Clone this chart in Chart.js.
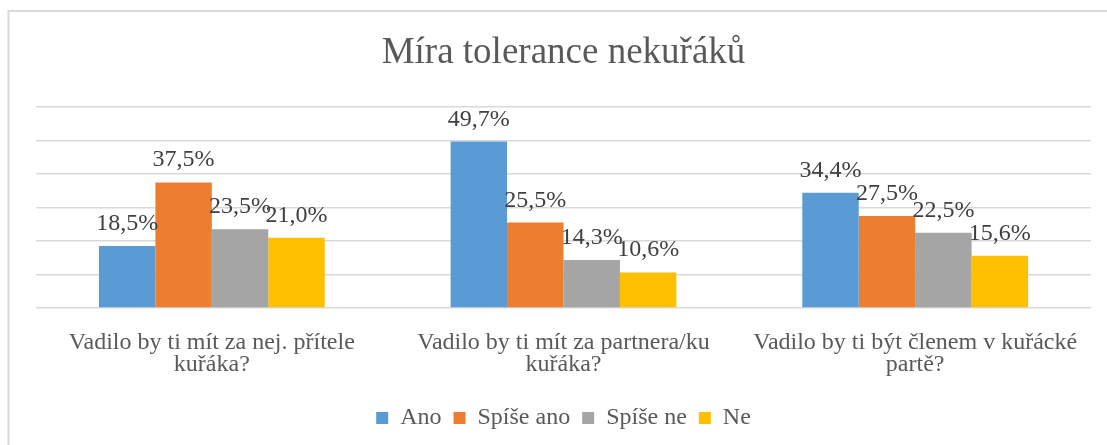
<!DOCTYPE html>
<html>
<head>
<meta charset="utf-8">
<script src="https://cdn.jsdelivr.net/npm/chart.js@4.4.1/dist/chart.umd.min.js"></script>
<style>
  html, body { margin: 0; padding: 0; background: #fff; }
  #wrap { width: 1107px; height: 445px; position: relative; }
  .preload { font-family: 'Liberation Serif'; position: absolute; left: -9999px; top: 0; }
</style>
</head>
<body>
<span class="preload">Míra tolerance nekuřáků 0123456789,%</span>
<div id="wrap"><canvas id="c" width="1107" height="445"></canvas></div>
<script>
const categories = [
  ['Vadilo by ti mít za nej. přítele', 'kuřáka?'],
  ['Vadilo by ti mít za partnera/ku', 'kuřáka?'],
  ['Vadilo by ti být členem v kuřácké', 'partě?']
];
const seriesNames = ['Ano', 'Spíše ano', 'Spíše ne', 'Ne'];
const ano = [18.5, 49.7, 34.4];
const spiseAno = [37.5, 25.5, 27.5];
const spiseNe = [23.5, 14.3, 22.5];
const ne = [21.0, 10.6, 15.6];
const colors = ['#5B9BD5', '#ED7D31', '#A5A5A5', '#FFC000'];
const yMax = 60;
const yStep = 10;

const FONT = "'Liberation Serif'";
const seriesValues = [ano, spiseAno, spiseNe, ne];

const frame = {
  id: 'frame',
  beforeDraw(chart) {
    const ctx = chart.ctx;
    ctx.save();
    ctx.fillStyle = '#ffffff';
    ctx.fillRect(0, 0, chart.width, chart.height);
    ctx.strokeStyle = '#d9d9d9';
    ctx.lineWidth = 2;
    ctx.beginPath();
    ctx.moveTo(8.5, chart.height + 2);
    ctx.lineTo(8.5, 11);
    ctx.lineTo(chart.width + 2, 11);
    ctx.stroke();
    ctx.restore();
  }
};

const valueLabels = {
  id: 'valueLabels',
  afterDatasetsDraw(chart) {
    const ctx = chart.ctx;
    ctx.save();
    ctx.font = '24px ' + FONT;
    ctx.fillStyle = '#404040';
    ctx.textAlign = 'center';
    ctx.textBaseline = 'alphabetic';
    chart.data.datasets.forEach((ds, di) => {
      const meta = chart.getDatasetMeta(di);
      meta.data.forEach((bar, i) => {
        const txt = ds.data[i].toFixed(1).replace('.', ',') + '%';
        ctx.fillText(txt, bar.x, bar.y - 16);
      });
    });
    ctx.restore();
  }
};

function build() {
  new Chart(document.getElementById('c'), {
    type: 'bar',
    data: {
      labels: categories,
      datasets: seriesNames.map((n, i) => ({
        label: n,
        data: seriesValues[i],
        backgroundColor: colors[i],
        borderWidth: 0,
        categoryPercentage: 0.642,
        barPercentage: 1.0
      }))
    },
    plugins: [frame, valueLabels],
    options: {
      responsive: false,
      animation: false,
      devicePixelRatio: 1,
      layout: { padding: { left: 36, right: 16, top: 0, bottom: 5 } },
      plugins: {
        title: {
          display: true,
          text: 'Míra tolerance nekuřáků',
          color: '#595959',
          font: { family: FONT, size: 37, weight: 'normal', lineHeight: 1.2 },
          padding: { top: 31, bottom: 31.6 }
        },
        legend: {
          display: true,
          position: 'bottom',
          labels: {
            color: '#595959',
            font: { family: FONT, size: 24 },
            boxWidth: 12,
            boxHeight: 12,
            padding: 12
          }
        },
        tooltip: { enabled: false }
      },
      scales: {
        x: {
          grid: { display: false, drawTicks: false },
          border: { display: false },
          ticks: {
            color: '#595959',
            font: { family: FONT, size: 24, lineHeight: 0.95 },
            padding: 23,
            maxRotation: 0,
            autoSkip: false
          },
          afterFit(scale) { scale.height = 86; }
        },
        y: {
          min: 0,
          max: yMax,
          ticks: { display: false, stepSize: yStep },
          grid: { color: '#d9d9d9', lineWidth: 1.5, drawTicks: false },
          border: { display: false }
        }
      }
    }
  });
}

Promise.all([
  document.fonts.load("24px 'Liberation Serif'"),
  document.fonts.load("37px 'Liberation Serif'")
]).then(build, build);
</script>
</body>
</html>
